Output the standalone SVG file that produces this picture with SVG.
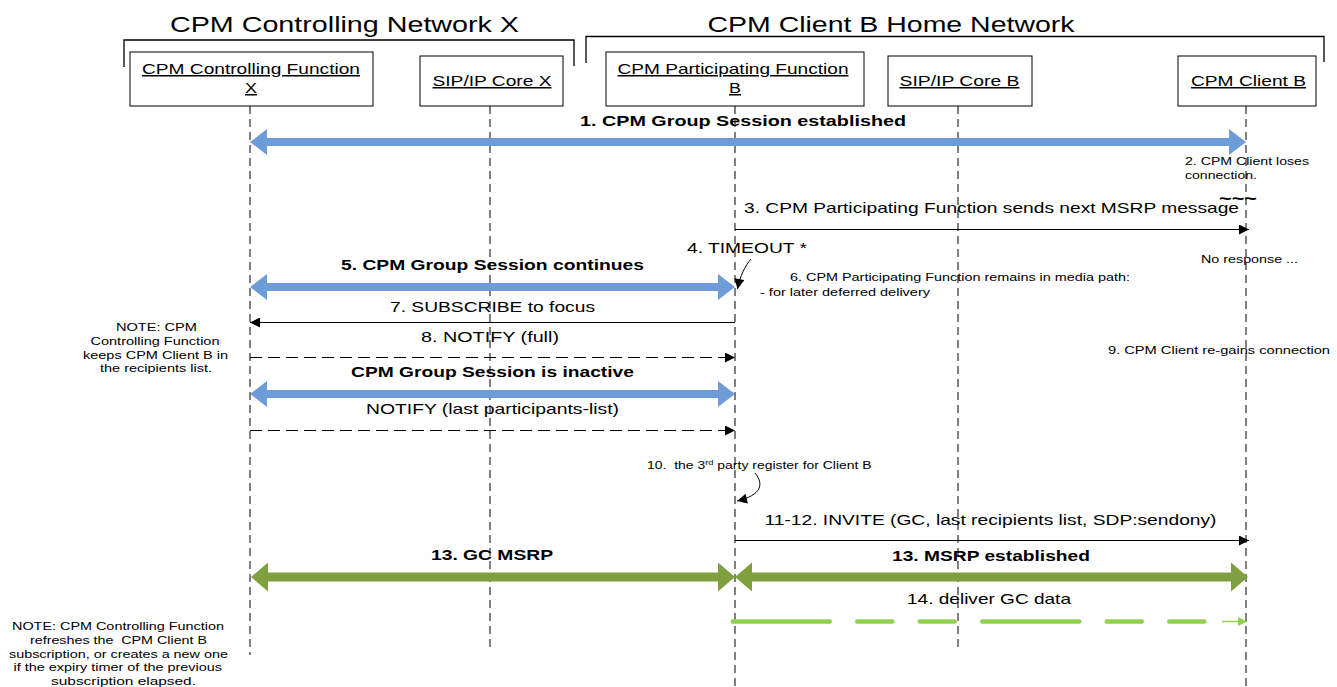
<svg xmlns="http://www.w3.org/2000/svg" width="1337" height="687" viewBox="0 0 1337 687">
<defs>
<style>
text{font-family:"Liberation Sans",Arial,sans-serif;fill:#000}
.t{font-size:22px}
.bx{font-size:15px;text-decoration:underline}
.m{font-size:15px}
.b{font-size:15px;font-weight:bold}
.s{font-size:11px}
.box{fill:#fff;stroke:#000;stroke-width:1}
.ll{stroke:#000;stroke-width:1;stroke-dasharray:8 5;fill:none}
.br{fill:none;stroke:#000;stroke-width:1.3}
.msg{stroke:#000;stroke-width:1;fill:none}
.dmsg{stroke:#000;stroke-width:1;fill:none;stroke-dasharray:12 6}
.blue{fill:#6E9CD9}
.green{fill:#80A040}
</style>
<marker id="ah" viewBox="0 0 10 10" refX="10" refY="5" markerWidth="11" markerHeight="10" markerUnits="userSpaceOnUse" orient="auto"><path d="M0,0 L10,5 L0,10 z" fill="#000"/></marker>
<marker id="ahg" viewBox="0 0 10 10" refX="10" refY="5" markerWidth="9" markerHeight="9" markerUnits="userSpaceOnUse" orient="auto"><path d="M0,0 L10,5 L0,10 z" fill="#92D050"/></marker>
</defs>
<rect width="1337" height="687" fill="#fff"/>

<g id="network-x">
<text class="t" x="170" y="31.5" textLength="349" lengthAdjust="spacingAndGlyphs">CPM Controlling Network X</text>
<path class="br" d="M124,67 V40 H574 V66"/>
</g>
<g id="network-b">
<text class="t" x="707.5" y="31.5" textLength="367" lengthAdjust="spacingAndGlyphs">CPM Client B Home Network</text>
<path class="br" d="M586,63 V36.5 H1324 V62"/>
</g>

<g id="cpm-controlling-function-x">
<line class="ll" x1="250" y1="106" x2="250" y2="655"/>
<rect class="box" x="130" y="52" width="243" height="54"/>
<text class="bx" x="142" y="74" textLength="218" lengthAdjust="spacingAndGlyphs">CPM Controlling Function</text>
<text class="bx" x="245" y="93" textLength="12" lengthAdjust="spacingAndGlyphs">X</text>
</g>
<g id="sip-ip-core-x">
<line class="ll" x1="490" y1="106" x2="490" y2="648"/>
<rect class="box" x="420" y="56" width="143" height="50"/>
<text class="bx" x="432.5" y="86" textLength="119" lengthAdjust="spacingAndGlyphs">SIP/IP Core X</text>
</g>
<g id="cpm-participating-function-b">
<line class="ll" x1="735" y1="106" x2="735" y2="687"/>
<rect class="box" x="606" y="52" width="258" height="54"/>
<text class="bx" x="617.5" y="74" textLength="231" lengthAdjust="spacingAndGlyphs">CPM Participating Function</text>
<text class="bx" x="729" y="93" textLength="12" lengthAdjust="spacingAndGlyphs">B</text>
</g>
<g id="sip-ip-core-b">
<line class="ll" x1="958" y1="106" x2="958" y2="648"/>
<rect class="box" x="888" y="56" width="144" height="50"/>
<text class="bx" x="899.5" y="86" textLength="120" lengthAdjust="spacingAndGlyphs">SIP/IP Core B</text>
</g>
<g id="cpm-client-b">
<line class="ll" x1="1246" y1="106" x2="1246" y2="687"/>
<rect class="box" x="1178" y="56" width="138" height="50"/>
<text class="bx" x="1191" y="86" textLength="115" lengthAdjust="spacingAndGlyphs">CPM Client B</text>
</g>

<g id="connectors">
<polygon class="blue" points="250,142 267,129 267,138 1229,138 1229,129 1246,142 1229,155 1229,146 267,146 267,155"/>
<line class="msg" x1="735" y1="229.5" x2="1249" y2="229.5" marker-end="url(#ah)"/>
<path class="msg" d="M751,259 C745,266 740,276 737.5,289" marker-end="url(#ah)"/>
<polygon class="blue" points="250,287 267,274 267,283 718,283 718,274 735,287 718,300 718,291 267,291 267,300"/>
<line class="msg" x1="735" y1="322.5" x2="250" y2="322.5" marker-end="url(#ah)"/>
<line class="dmsg" x1="250" y1="357.5" x2="735" y2="357.5" marker-end="url(#ah)"/>
<polygon class="blue" points="250,394 267,381 267,390 718,390 718,381 735,394 718,407 718,398 267,398 267,407"/>
<line class="dmsg" x1="250" y1="430.5" x2="735" y2="430.5" marker-end="url(#ah)"/>
<path class="msg" d="M755,473 C764,484 762,495 737,501" marker-end="url(#ah)"/>
<line class="msg" x1="735" y1="540.5" x2="1249" y2="540.5" marker-end="url(#ah)"/>
<polygon class="green" points="251,577 268,562.5 268,572.5 718,572.5 718,562.5 735,577 718,591.5 718,581.5 268,581.5 268,591.5"/>
<polygon class="green" points="735,577 752,562.5 752,572.5 1231,572.5 1231,562.5 1248,577 1231,591.5 1231,581.5 752,581.5 752,591.5"/>
<line x1="732.75" y1="621.5" x2="1205" y2="621.5" stroke="#92D050" stroke-width="4.5" stroke-linecap="round" stroke-dasharray="97 27.5 35 27.5 35 27.5"/>
<line x1="1222" y1="621.5" x2="1247" y2="621.5" stroke="#92D050" stroke-width="1.5" marker-end="url(#ahg)"/>
</g>

<g id="labels">
<text class="b" x="580" y="126" textLength="326" lengthAdjust="spacingAndGlyphs">1. CPM Group Session established</text>
<text class="s" x="1185" y="164.5" textLength="124" lengthAdjust="spacingAndGlyphs">2. CPM Client loses</text>
<text class="s" x="1185" y="179" textLength="72" lengthAdjust="spacingAndGlyphs">connection.</text>
<text class="m" x="744" y="212.5" textLength="495" lengthAdjust="spacingAndGlyphs">3. CPM Participating Function sends next MSRP message</text>
<text x="1219" y="204" style="font-size:17px;font-weight:bold" textLength="38" lengthAdjust="spacingAndGlyphs">~~~</text>
<text x="687" y="253" style="font-size:14.5px" textLength="120" lengthAdjust="spacingAndGlyphs">4. TIMEOUT *</text>
<text class="b" x="341" y="269.5" textLength="303" lengthAdjust="spacingAndGlyphs">5. CPM Group Session continues</text>
<text class="s" x="1201" y="263" textLength="97" lengthAdjust="spacingAndGlyphs">No response ...</text>
<text class="s" x="790" y="280.5" textLength="340" lengthAdjust="spacingAndGlyphs">6. CPM Participating Function remains in media path:</text>
<text class="s" x="760" y="296" textLength="170" lengthAdjust="spacingAndGlyphs">- for later deferred delivery</text>
<text class="m" x="390" y="312" textLength="205" lengthAdjust="spacingAndGlyphs">7. SUBSCRIBE to focus</text>
<text class="s" x="116" y="331" textLength="81" lengthAdjust="spacingAndGlyphs">NOTE: CPM</text>
<text class="s" x="90.5" y="344.5" textLength="129" lengthAdjust="spacingAndGlyphs">Controlling Function</text>
<text class="s" x="83" y="358.5" textLength="145" lengthAdjust="spacingAndGlyphs">keeps CPM Client B in</text>
<text class="s" x="100" y="372" textLength="112" lengthAdjust="spacingAndGlyphs">the recipients list.</text>
<text class="m" x="421" y="342" textLength="138" lengthAdjust="spacingAndGlyphs">8. NOTIFY (full)</text>
<text class="s" x="1108" y="353.5" textLength="222" lengthAdjust="spacingAndGlyphs">9. CPM Client re-gains connection</text>
<text class="b" x="351" y="377" textLength="283" lengthAdjust="spacingAndGlyphs">CPM Group Session is inactive</text>
<text class="m" x="366" y="413.5" textLength="253" lengthAdjust="spacingAndGlyphs">NOTIFY (last participants-list)</text>
<text style="font-size:10.5px" xml:space="preserve" x="0" y="0" transform="translate(647,468.5) scale(1.33,1)">10.  the 3<tspan dy="-4" style="font-size:7px">rd</tspan><tspan dy="4"> party register for Client B</tspan></text>
<text class="m" x="764.5" y="525" textLength="452" lengthAdjust="spacingAndGlyphs">11-12. INVITE (GC, last recipients list, SDP:sendony)</text>
<text class="b" x="431" y="559.5" textLength="122" lengthAdjust="spacingAndGlyphs">13. GC MSRP</text>
<text class="b" x="892" y="561" textLength="198" lengthAdjust="spacingAndGlyphs">13. MSRP established</text>
<text class="m" x="907" y="604" textLength="164" lengthAdjust="spacingAndGlyphs">14. deliver GC data</text>
<text class="s" x="12" y="629.5" textLength="212" lengthAdjust="spacingAndGlyphs">NOTE: CPM Controlling Function</text>
<text class="s" xml:space="preserve" x="30" y="643.5" textLength="177" lengthAdjust="spacingAndGlyphs">refreshes the  CPM Client B</text>
<text class="s" x="9" y="657.5" textLength="219" lengthAdjust="spacingAndGlyphs">subscription, or creates a new one</text>
<text class="s" x="13.5" y="671" textLength="208.5" lengthAdjust="spacingAndGlyphs">if the expiry timer of the previous</text>
<text class="s" x="51" y="684.5" textLength="145" lengthAdjust="spacingAndGlyphs">subscription elapsed.</text>
</g>
</svg>
